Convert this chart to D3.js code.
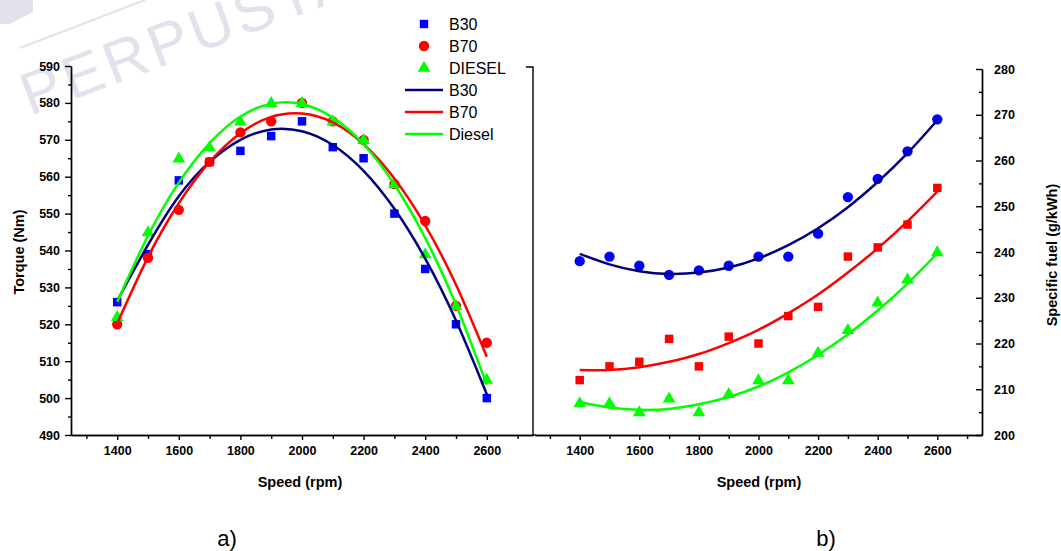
<!DOCTYPE html>
<html><head><meta charset="utf-8">
<script src="https://cdn.jsdelivr.net/npm/d3@7"></script>
<style>body{margin:0;background:#fff}svg{display:block}text{font-family:Arial,"Liberation Sans",sans-serif}</style>
</head><body><svg id="c" width="1061" height="551"></svg>
<script>
const speeds = [1400,1500,1600,1700,1800,1900,2000,2100,2200,2300,2400,2500,2600];
// Panel a) Torque (Nm) measured
const torqueB30 = [526,539,559,564,567,571,575,568,565,550,535,520,500];
const torqueB70 = [520,538,551,564,572,575,580,575,570,558,548,525,515];
const torqueDiesel = [522,545,565,568,575,580,580,575,570,558,539,525,505];
// Panel a) fitted curves
const torqueFitB30 = [526.4,541.5,554.7,564,570,572.8,572.3,568.6,561.6,551.3,537.8,521,501];
const torqueFitB70 = [520.2,538.2,552.8,564,571.8,576.2,577.1,574.7,568.8,559.5,546.8,530.7,511.2];
const torqueFitDiesel = [526.1,544,558.4,569.1,576.3,579.8,579.7,576,568.8,557.9,543.4,525.3,503.6];
// Panel b) Specific fuel (g/kWh) measured
const sfcB30 = [238,239,237,235,236,237,239,239,244,252,256,262,269];
const sfcB70 = [212,215,216,221,215,221.5,220,226,228,239,241,246,254];
const sfcDiesel = [207,207,205,208,205,209,212,212,218,223,229,234,240];
// Panel b) fitted curves
const sfcFitB30 = [239.6,237.3,235.8,235.2,235.5,236.6,238.6,241.5,245.2,249.8,255.3,261.6,268.8];
const sfcFitB70 = [214.2,214.2,214.8,216,217.7,220.1,223,226.6,230.7,235.5,240.8,246.7,253.2];
const sfcFitDiesel = [207.2,206,205.5,205.7,206.7,208.3,210.6,213.7,217.5,222,227.2,233.1,239.7];
// Ticks
const xMajor = [1400,1600,1800,2000,2200,2400,2600];
const xMinor = [1300,1500,1700,1900,2100,2300,2500,2700];
const torqueTicks = [490,500,510,520,530,540,550,560,570,580,590];
const torqueMinor = [495,505,515,525,535,545,555,565,575,585];
const sfcTicks = [200,210,220,230,240,250,260,270,280];
const sfcMinor = [205,215,225,235,245,255,265,275];
const legendMarkers = ["B30","B70","DIESEL"];
const legendLines = ["B30","B70","Diesel"];

const C = {blue:"#0000ff", red:"#ff0000", green:"#00ff00", navy:"#000080"};
const svg = d3.select("#c");

// watermark
const wm = svg.append("g").attr("fill","#e2e2ed");
wm.append("path").attr("d","M0,0 L33,0 L33,12 L10,24 L0,24 Z");
wm.append("line").attr("x1",20).attr("y1",48).attr("x2",145).attr("y2",0).attr("stroke","#e2e2ed").attr("stroke-width",2);
wm.append("text").attr("transform","translate(30,116) rotate(-20.5)").attr("font-size",60).attr("letter-spacing",4).text("PERPUSTAKAAN");

const xL = d3.scaleLinear().domain([1250,2750]).range([71,533]);
const yL = d3.scaleLinear().domain([490,590]).range([435,66]);
const xR = d3.scaleLinear().domain([1250,2750]).range([535,982]);
const yR = d3.scaleLinear().domain([200,280]).range([435,69]);

function styleAxis(g){ g.selectAll("path,line").attr("stroke","#000").attr("stroke-width",1.4);
  g.selectAll("text").attr("font-size",12.5).attr("font-weight","bold").attr("fill","#000").attr("font-family","Arial, 'Liberation Sans', sans-serif"); }

// Panel a axes
let g;
g = svg.append("g").attr("transform","translate(0,435)").call(d3.axisBottom(xL).tickValues(xMajor).tickSize(5).tickSizeOuter(0).tickFormat(d3.format("d")).tickPadding(6)); styleAxis(g);
g = svg.append("g").attr("transform","translate(0,435)").call(d3.axisBottom(xL).tickValues(xMinor).tickSize(4).tickSizeOuter(0).tickFormat("")); styleAxis(g);
g = svg.append("g").attr("transform","translate(71,0)").call(d3.axisLeft(yL).tickValues(torqueTicks).tickSize(6).tickSizeOuter(0).tickPadding(5)); styleAxis(g);
g = svg.append("g").attr("transform","translate(71,0)").call(d3.axisLeft(yL).tickValues(torqueMinor).tickSize(3).tickSizeOuter(0).tickFormat("")); styleAxis(g);
// frame right line
svg.append("path").attr("d",`M526,${yL(590)+1}H533V435`).attr("fill","none").attr("stroke","#000").attr("stroke-width",1.4);

// Panel b axes
g = svg.append("g").attr("transform","translate(0,435)").call(d3.axisBottom(xR).tickValues(xMajor).tickSize(5).tickSizeOuter(0).tickFormat(d3.format("d")).tickPadding(6)); styleAxis(g);
g = svg.append("g").attr("transform","translate(0,435)").call(d3.axisBottom(xR).tickValues(xMinor).tickSize(4).tickSizeOuter(0).tickFormat("")); styleAxis(g);
svg.append("line").attr("x1",533).attr("x2",536).attr("y1",435).attr("y2",435).attr("stroke","#000").attr("stroke-width",1.4);
g = svg.append("g").attr("transform","translate(982,0)").call(d3.axisRight(yR).tickValues(sfcTicks).tickSize(-6).tickSizeOuter(0).tickPadding(12)); styleAxis(g);
g = svg.append("g").attr("transform","translate(982,0)").call(d3.axisRight(yR).tickValues(sfcMinor).tickSize(-3).tickSizeOuter(0).tickFormat("")); styleAxis(g);

// axis titles
function title(x,y,rot,t){ svg.append("text").attr("transform",`translate(${x},${y}) rotate(${rot})`).attr("text-anchor","middle")
  .attr("font-size",14.5).attr("font-weight","bold").text(t); }
title(24,252,-90,"Torque (Nm)");
title(300,487,0,"Speed (rpm)");
title(759,487,0,"Speed (rpm)");
title(1057,255,-90,"Specific fuel (g/kWh)");
svg.append("text").attr("x",227).attr("y",546).attr("text-anchor","middle").attr("font-family","'Liberation Serif','Times New Roman',serif").attr("font-size",22).text("a)");
svg.append("text").attr("x",826).attr("y",546).attr("text-anchor","middle").attr("font-family","'Liberation Serif','Times New Roman',serif").attr("font-size",22).text("b)");

// markers
const sq = d3.symbol().type(d3.symbolSquare).size(72);
const ci = d3.symbol().type(d3.symbolCircle).size(84);
const tr = d3.symbol().type(d3.symbolTriangle).size(70);
function curve(xs,ys,vals,color){ svg.append("path").datum(vals).attr("fill","none").attr("stroke",color).attr("stroke-width",2.5)
  .attr("d",d3.line().x((d,i)=>xs(speeds[i])).y(d=>ys(d)).curve(d3.curveNatural)); }
function pts(xs,ys,vals,sym,color,dy){ svg.append("g").selectAll("path").data(vals).join("path")
  .attr("transform",(d,i)=>`translate(${xs(speeds[i])},${ys(d)+(dy||0)})`).attr("d",sym).attr("fill",color); }

// Panel a
pts(xL,yL,torqueB30,sq,C.blue);
pts(xL,yL,torqueB70,ci,C.red);
pts(xL,yL,torqueDiesel,tr,C.green,0.5);
curve(xL,yL,torqueFitB30,C.navy);
curve(xL,yL,torqueFitB70,C.red);
curve(xL,yL,torqueFitDiesel,C.green);

// Panel b
pts(xR,yR,sfcB30,ci,C.blue);
pts(xR,yR,sfcB70,sq,C.red);
pts(xR,yR,sfcDiesel,tr,C.green,0.5);
curve(xR,yR,sfcFitB30,C.navy);
curve(xR,yR,sfcFitB70,C.red);
curve(xR,yR,sfcFitDiesel,C.green);

// legend
const leg = svg.append("g");
const lsyms = [sq,ci,tr], lcol = [C.blue,C.red,C.green], lcol2=[C.navy,C.red,C.green];
legendMarkers.forEach((t,i)=>{ const y=24+i*22;
  leg.append("path").attr("transform",`translate(424,${y})`).attr("d",lsyms[i]).attr("fill",lcol[i]);
  leg.append("text").attr("x",449).attr("y",y).attr("dy","0.36em").attr("font-size",16).text(t); });
legendLines.forEach((t,i)=>{ const y=90+i*22;
  leg.append("line").attr("x1",405).attr("x2",443).attr("y1",y).attr("y2",y).attr("stroke",lcol2[i]).attr("stroke-width",2.5);
  leg.append("text").attr("x",449).attr("y",y).attr("dy","0.36em").attr("font-size",16).text(t); });
</script></body></html>
